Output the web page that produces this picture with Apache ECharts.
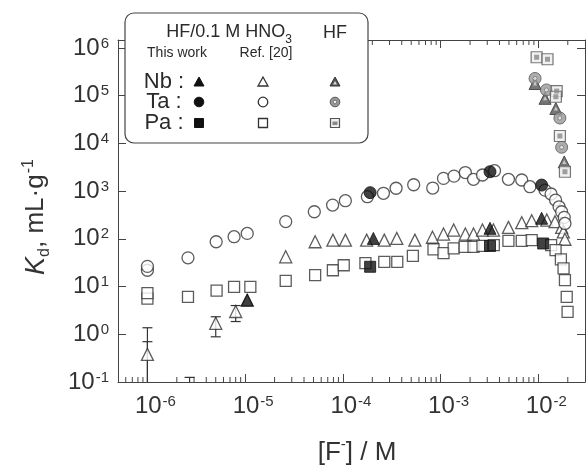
<!DOCTYPE html>
<html>
<head>
<meta charset="utf-8">
<script src="https://cdn.jsdelivr.net/npm/echarts/dist/echarts.min.js"></script>
<style>
  html, body { margin: 0; padding: 0; background: #fff; }
  #chart { width: 588px; height: 465px; }
</style>
</head>
<body>
<div id="chart"></div>
<script>
// Decades that carry a tick label on each axis (exponents of ten)
const xDecades = [-6, -5, -4, -3, -2];
const yDecades = [-1, 0, 1, 2, 3, 4, 5, 6];

// Kd in HF/0.1 M HNO3, Ref. [20] (open symbols): [ [F-] / M, Kd / mL g-1 ]
const refNb = [
  [1.0e-6, 0.38], [5.0e-6, 1.7], [8.0e-6, 3.0], [1.05e-5, 5.2], [2.6e-5, 42],
  [5.2e-5, 87], [7.9e-5, 94], [1.06e-4, 94], [1.75e-4, 94], [2.65e-4, 94],
  [3.56e-4, 102], [5.45e-4, 94], [8.25e-4, 108], [1.07e-3, 126], [1.36e-3, 153],
  [1.79e-3, 126], [2.17e-3, 126], [2.68e-3, 153], [3.47e-3, 153], [4.94e-3, 174],
  [6.76e-3, 218], [8.55e-3, 240], [1.22e-2, 248], [1.48e-2, 229], [1.73e-2, 174],
  [1.8e-2, 140], [1.87e-2, 98]
];
const refTa = [
  [1.0e-6, 22], [1.0e-6, 26.5], [2.6e-6, 40], [5.05e-6, 87], [7.7e-6, 111],
  [1.05e-5, 130], [2.6e-5, 230], [5.1e-5, 370], [7.85e-5, 510], [1.06e-4, 630],
  [1.78e-4, 765], [2.6e-4, 900], [3.5e-4, 1150], [5.3e-4, 1360], [8.3e-4, 1160],
  [1.07e-3, 1850], [1.37e-3, 2060], [1.79e-3, 2450], [2.17e-3, 1770], [2.68e-3, 2180],
  [3.56e-3, 2680], [4.94e-3, 1770], [6.76e-3, 1710], [8.2e-3, 1240], [1.17e-2, 1050],
  [1.35e-2, 870], [1.5e-2, 650], [1.63e-2, 470], [1.73e-2, 370], [1.84e-2, 282],
  [1.87e-2, 210]
];
const refPa = [
  [1.0e-6, 5.6], [1.0e-6, 7.3], [2.6e-6, 6.1], [5.1e-6, 8.2], [7.7e-6, 9.9],
  [1.13e-5, 9.9], [2.6e-5, 13.2], [5.2e-5, 17.4], [7.9e-5, 22], [1.02e-4, 28],
  [1.7e-4, 31], [2.65e-4, 33], [3.6e-4, 33], [5.2e-4, 44], [8.45e-4, 60],
  [1.07e-3, 50], [1.36e-3, 63], [1.76e-3, 68], [2.17e-3, 68], [2.68e-3, 71],
  [3.5e-3, 74], [4.94e-3, 91], [6.76e-3, 91], [8.55e-3, 94], [1.35e-2, 74],
  [1.5e-2, 58], [1.7e-2, 37], [1.81e-2, 24], [1.87e-2, 13.7], [1.95e-2, 6.1],
  [1.99e-2, 2.95]
];

// Kd in HF/0.1 M HNO3, this work (filled symbols)
const thisNb = [[1.05e-5, 5.2], [2.05e-4, 102], [3.2e-3, 166], [1.08e-2, 270]];
const thisTa = [[1.9e-4, 930], [3.2e-3, 2550], [1.08e-2, 1340]];
const thisPa = [[1.9e-4, 26], [3.2e-3, 71], [1.12e-2, 80]];

// Kd in pure HF (grey symbols)
const hfNb = [[9.25e-3, 1.8e5], [1.17e-2, 8.8e4], [1.51e-2, 5.4e4], [1.84e-2, 4.1e3]];
const hfTa = [[9.25e-3, 2.3e5], [1.21e-2, 1.32e5], [1.66e-2, 3.4e4], [1.73e-2, 8.3e3]];
const hfPa = [[9.6e-3, 6.4e5], [1.24e-2, 5.8e5], [1.54e-2, 1.25e5], [1.51e-2, 9.5e4],
              [1.66e-2, 1.43e4], [1.87e-2, 2.55e3]];

// Nb error bars: [ [F-], lower Kd, upper Kd ]
const errNb = [
  [1.0e-6, 0.05, 1.37], [1.0e-6, 0.05, 0.70], [2.7e-6, 0.03, 0.125],
  [5.0e-6, 0.885, 2.33], [8.0e-6, 1.85, 4.0]
];

const X_MIN = 5e-7, X_MAX = 3e-2;
const Y_MIN = 0.1, Y_MAX = 1.47e6;

const FONT = '"Liberation Sans", Arial, Helvetica, sans-serif';
const INK = '#333';

// positions of the 2..9 x 10^k minor ticks along the [F-] axis
const minorX = [];
for (let e = -7; e <= -2; e++) {
  for (let m = 2; m <= 9; m++) {
    const v = m * Math.pow(10, e);
    if (v > X_MIN && v < X_MAX) minorX.push([v, 1]);
  }
}

function powerLabel(decades) {
  return function (v) {
    const lg = Math.log10(v);
    const e = Math.round(lg);
    if (Math.abs(lg - e) > 1e-6 || decades.indexOf(e) < 0) return '';
    return '{b|10}{s|' + e + '}';
  };
}
function powerRich(leftPad) {
  return {
    b: { fontSize: 24, lineHeight: 24, fontFamily: FONT, color: INK, verticalAlign: 'bottom',
         padding: [0, 0, 0, leftPad] },
    s: { fontSize: 15, lineHeight: 15, fontFamily: FONT, color: INK, verticalAlign: 'top',
         padding: [0, 0, 13, 1] }
  };
}

function frameAxis(extra) {
  return Object.assign({
    type: 'log',
    axisLine: { show: true, lineStyle: { color: '#444', width: 1 } },
    axisTick: { show: true, inside: true, length: 8, lineStyle: { color: '#444', width: 1 } },
    splitLine: { show: false },
    minorTick: { show: false }
  }, extra);
}

const chart = echarts.init(document.getElementById('chart'), null, { renderer: 'canvas' });

const openStyle = { color: '#fff', borderColor: '#333', borderWidth: 1.3 };
const fillStyle = { color: '#111', borderColor: '#111', borderWidth: 1 };

function scatter(name, data, symbol, size, style, z) {
  return { name, type: 'scatter', data, symbol, symbolSize: size, itemStyle: style,
           z: z, silent: true, animation: false };
}

const option = {
  animation: false,
  backgroundColor: '#fff',
  grid: { left: 118, top: 40, width: 471, height: 342 },
  xAxis: [
    frameAxis({
      min: X_MIN, max: X_MAX, position: 'bottom',
      // the superscript hangs to the right so "10" sits centred on its tick
      axisLabel: { show: true, margin: 12, formatter: powerLabel(xDecades), rich: powerRich(16) }
    }),
    frameAxis({ min: X_MIN, max: X_MAX, position: 'top', axisLabel: { show: false } })
  ],
  yAxis: [
    frameAxis({
      min: Y_MIN, max: Y_MAX, position: 'left',
      axisLabel: { show: true, margin: 9, formatter: powerLabel(yDecades), rich: powerRich(0) }
    }),
    frameAxis({ min: Y_MIN, max: Y_MAX, position: 'right', axisLabel: { show: false } })
  ],
  series: [
    {
      // minor decade ticks on the bottom and top frame
      type: 'custom', data: minorX, silent: true, z: 1,
      encode: { x: 0, y: 1 },
      renderItem: function (params, api) {
        const cs = params.coordSys;
        const px = api.coord([api.value(0), 1])[0];
        const st = { stroke: '#444', lineWidth: 1 };
        return { type: 'group', children: [
          { type: 'line', shape: { x1: px, y1: cs.y + cs.height, x2: px, y2: cs.y + cs.height - 5 }, style: st },
          { type: 'line', shape: { x1: px, y1: cs.y, x2: px, y2: cs.y + 5 }, style: st }
        ] };
      }
    },
    {
      type: 'custom', data: errNb, silent: true, z: 2,
      encode: { x: 0, y: [1, 2] },
      renderItem: function (params, api) {
        const cs = params.coordSys;
        const bottom = cs.y + cs.height;
        const hi = api.coord([api.value(0), api.value(2)]);
        const lo = api.coord([api.value(0), api.value(1)]);
        const st = { stroke: '#333', lineWidth: 1.2 };
        const ylo = Math.min(lo[1], bottom);
        const kids = [
          { type: 'line', shape: { x1: hi[0], y1: hi[1], x2: hi[0], y2: ylo }, style: st },
          { type: 'line', shape: { x1: hi[0] - 5, y1: hi[1], x2: hi[0] + 5, y2: hi[1] }, style: st }
        ];
        if (lo[1] <= bottom) {
          kids.push({ type: 'line', shape: { x1: lo[0] - 5, y1: lo[1], x2: lo[0] + 5, y2: lo[1] }, style: st });
        }
        return { type: 'group', children: kids };
      }
    },
    scatter('Nb ref', refNb, 'triangle', 12, openStyle, 3),
    scatter('Ta ref', refTa, 'circle', 12, openStyle, 3),
    scatter('Pa ref', refPa, 'rect', 11, openStyle, 3),
    scatter('Nb', thisNb, 'triangle', 12, fillStyle, 4),
    scatter('Ta', thisTa, 'circle', 12, fillStyle, 4),
    scatter('Pa', thisPa, 'rect', 11, fillStyle, 4),
    scatter('Nb HF', hfNb, 'triangle', 12, { color: '#555', borderColor: '#333', borderWidth: 1 }, 5),
    scatter('Nb HF core', hfNb, 'triangle', 4, { color: '#ddd' }, 6),
    scatter('Ta HF', hfTa, 'circle', 12, { color: '#999', borderColor: '#555', borderWidth: 1 }, 5),
    scatter('Ta HF core', hfTa, 'circle', 4, { color: '#eee', borderColor: '#666', borderWidth: 0.8 }, 6),
    scatter('Pa HF', hfPa, 'rect', 11, { color: '#eee', borderColor: '#555', borderWidth: 1.2 }, 5),
    scatter('Pa HF core', hfPa, 'rect', 5, { color: '#888' }, 6)
  ],
  graphic: []
};

// legend panel
const legendItems = [];
function lgText(x, y, text, rich, size) {
  legendItems.push({
    type: 'text', x, y, z: 101,
    style: { text, rich, fontSize: size, fontFamily: FONT, fill: '#2a2a2a', align: 'center', verticalAlign: 'middle' }
  });
}
function lgSymbol(kind, look, cx, cy) {
  const base = look === 'fill' ? { fill: '#111', stroke: '#111', lineWidth: 1 }
             : look === 'open' ? { fill: '#fff', stroke: '#333', lineWidth: 1.3 }
             : null;
  if (kind === 'tri') {
    legendItems.push({ type: 'polygon', z: 101, shape: { points: [[cx, cy - 5], [cx - 5, cy + 4], [cx + 5, cy + 4]] },
      style: base || { fill: '#555', stroke: '#333', lineWidth: 1 } });
    if (!base) legendItems.push({ type: 'polygon', z: 102, shape: { points: [[cx, cy - 1], [cx - 2, cy + 2.5], [cx + 2, cy + 2.5]] }, style: { fill: '#ddd' } });
  } else if (kind === 'circ') {
    legendItems.push({ type: 'circle', z: 101, shape: { cx, cy, r: 4.8 },
      style: base || { fill: '#999', stroke: '#555', lineWidth: 1 } });
    if (!base) legendItems.push({ type: 'circle', z: 102, shape: { cx, cy, r: 1.8 }, style: { fill: '#eee', stroke: '#666', lineWidth: 0.8 } });
  } else {
    legendItems.push({ type: 'rect', z: 101, shape: { x: cx - 4.5, y: cy - 4.5, width: 9, height: 9 },
      style: base || { fill: '#eee', stroke: '#555', lineWidth: 1.2 } });
    if (!base) legendItems.push({ type: 'rect', z: 102, shape: { x: cx - 2.5, y: cy - 1.5, width: 5, height: 3.5 }, style: { fill: '#888' } });
  }
}

legendItems.push({
  type: 'rect', z: 100,
  shape: { x: 125, y: 13, width: 243, height: 130, r: 9 },
  style: { fill: '#fff', stroke: '#444', lineWidth: 1.2 }
});
lgText(229, 33, '{a|HF/0.1 M HNO}{b|3}', {
  a: { fontSize: 18, lineHeight: 19, fontFamily: FONT, fill: '#2a2a2a', verticalAlign: 'top' },
  b: { fontSize: 12, lineHeight: 12, fontFamily: FONT, fill: '#2a2a2a', verticalAlign: 'top', padding: [10, 0, 0, 0] }
}, 18);
lgText(335, 33, 'HF', null, 18);
lgText(177, 53, 'This work', null, 14);
lgText(266, 53, 'Ref. [20]', null, 14);
const rows = [['Nb :', 'tri', 82], ['Ta :', 'circ', 102], ['Pa :', 'sq', 123]];
rows.forEach(function (r) {
  lgText(164, r[2], r[0], null, 22);
  lgSymbol(r[1], 'fill', 199, r[2]);
  lgSymbol(r[1], 'open', 263, r[2]);
  lgSymbol(r[1], 'hf', 335, r[2]);
});

// axis titles
legendItems.push({
  type: 'text', x: 35, y: 217, rotation: Math.PI / 2, z: 50,
  style: {
    text: '{i|K}{d|d}{n|, mL·g}{u|-1}',
    rich: {
      i: { fontSize: 27, lineHeight: 28, fontFamily: FONT, fontStyle: 'italic', fill: INK, verticalAlign: 'top', padding: [2, 0, 0, 0] },
      d: { fontSize: 16, lineHeight: 16, fontFamily: FONT, fill: INK, verticalAlign: 'top', padding: [16, 0, 0, 0] },
      n: { fontSize: 26, lineHeight: 28, fontFamily: FONT, fill: INK, verticalAlign: 'top', padding: [2, 0, 0, 0] },
      u: { fontSize: 16, lineHeight: 16, fontFamily: FONT, fill: INK, verticalAlign: 'top', padding: [0, 0, 0, 1] }
    },
    align: 'center', verticalAlign: 'middle'
  }
});
legendItems.push({
  type: 'text', x: 357, y: 451, z: 50,
  style: {
    text: '{n|[F}{u|-}{n|] / M}',
    rich: {
      n: { fontSize: 26, lineHeight: 28, fontFamily: FONT, fill: INK, verticalAlign: 'top', padding: [3, 0, 0, 0] },
      u: { fontSize: 15, lineHeight: 15, fontFamily: FONT, fill: INK, verticalAlign: 'top' }
    },
    align: 'center', verticalAlign: 'middle'
  }
});

option.graphic = legendItems;
chart.setOption(option);
</script>
</body>
</html>
